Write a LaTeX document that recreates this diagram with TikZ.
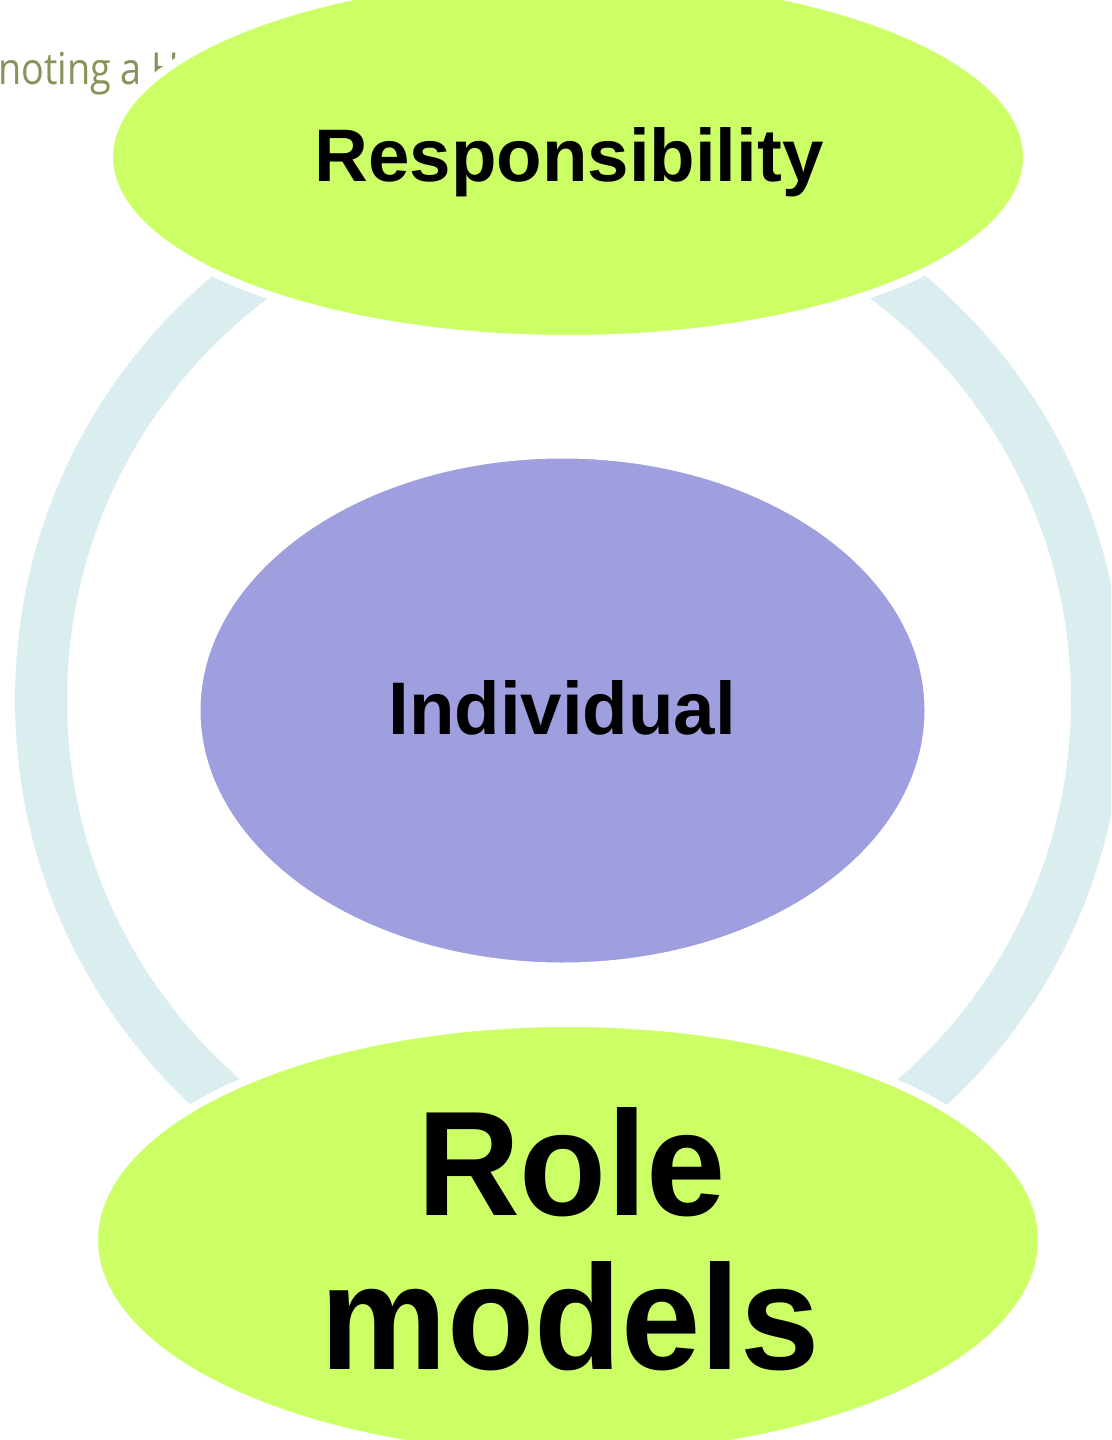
\documentclass[tikz,border=0pt]{standalone}
\usepackage{fontspec}
\setmainfont{Liberation Sans}
\newfontfamily\notefont{Open Sans}
\usetikzlibrary{shapes.geometric}
\definecolor{limegreen}{HTML}{CCFF66}
\definecolor{lavender}{HTML}{9F9FDF}
\definecolor{ringblue}{HTML}{DAEDEF}
\definecolor{olivetext}{HTML}{8A925A}
\tikzset{
  blob/.style={shape=ellipse, inner sep=0pt, draw=white, line width=8pt},
  greenblob/.style={blob, fill=limegreen},
  purpleblob/.style={blob, fill=lavender},
  lbl/.style={anchor=base, inner sep=0pt, font=\bfseries\fontsize{74.5pt}{80pt}\selectfont},
  biglbl/.style={anchor=base, inner sep=0pt, font=\bfseries\fontsize{142.5pt}{150pt}\selectfont},
}
\begin{document}
\begin{tikzpicture}[x=1pt,y=-1pt]
\useasboundingbox (0,0) rectangle (1111,1440);
\clip (0,0) rectangle (1111,1440);
\fill[white] (0,0) rectangle (1111,1440);
% partially hidden note text
\node[anchor=base west, inner sep=0pt, text=olivetext, font=\notefont\fontsize{42pt}{48pt}\selectfont] (note) at (-2,84.3) {\scalebox{0.9}[1.05]{noting a H}};
% cycle ring
\draw[ringblue, line width=52pt] (569,700) circle [radius=528pt];
% ellipses
\node[greenblob, minimum width=918pt, minimum height=364pt] (resp) at (568,157) {};
\node[purpleblob, minimum width=732pt, minimum height=512pt] (indiv) at (562.5,710.5) {};
\node[greenblob, minimum width=948pt, minimum height=434pt] (role) at (568,1240) {};
% labels
\node[lbl] (resptext) at (569,181.7) {Responsibility};
\node[lbl] (indivtext) at (562.2,734) {Individual};
\node[biglbl] (roletext1) at (571.5,1215.7) {\scalebox{1}[1.046]{Role}};
\node[biglbl] (roletext2) at (570,1369.6) {\scalebox{1}[1.046]{models}};
\end{tikzpicture}
\end{document}
